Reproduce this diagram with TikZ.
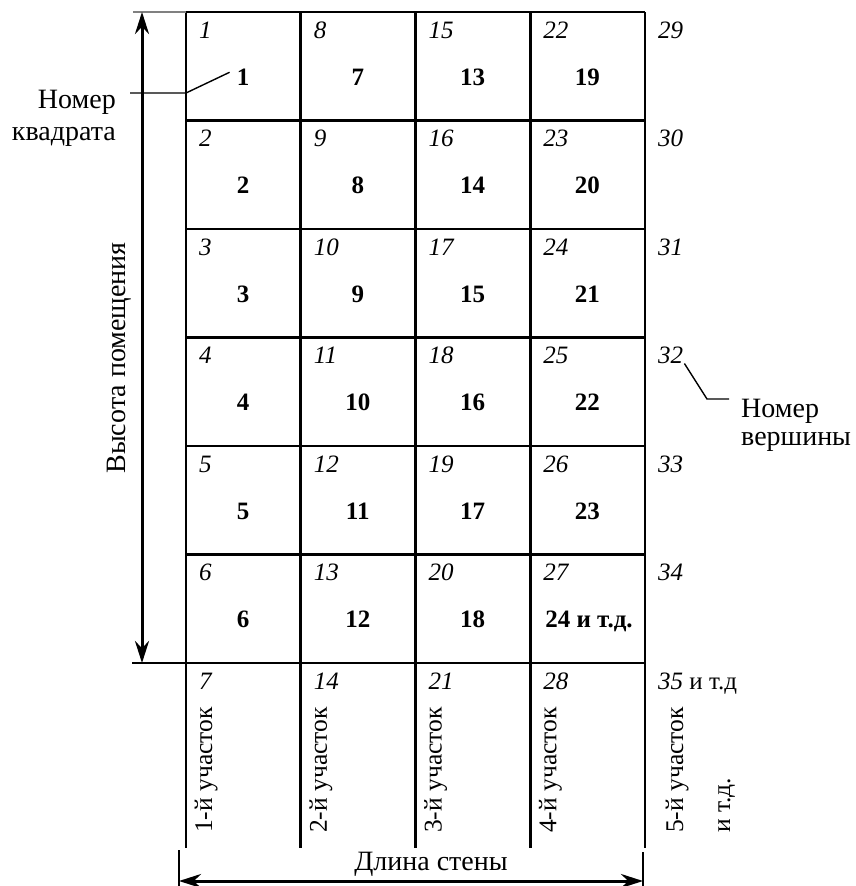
\documentclass[tikz,border=0pt]{standalone}
\usepackage{fontspec}
\setmainfont{Liberation Serif}
\usetikzlibrary{arrows.meta}
\begin{document}
\begin{tikzpicture}[x=1pt,y=-1pt,
  gridline/.style={line width=2.8pt},
  leader/.style={line width=1.4pt},
  dimline/.style={line width=3pt,
    {Stealth[length=22pt,width=14pt]}-{Stealth[length=22pt,width=14pt]}},
  vnum/.style={font=\fontsize{25}{28}\itshape, anchor=base west, inner sep=0pt},
  sqnum/.style={font=\fontsize{25}{28}\bfseries, anchor=base, inner sep=0pt},
  caption/.style={font=\fontsize{28}{32}\selectfont, inner sep=0pt},
  strip/.style={font=\fontsize{25.5}{30}\selectfont, inner sep=0pt, rotate=90, anchor=base west},
]
% page frame
\useasboundingbox (0,0) rectangle (856,886);

% grid: 4 columns of squares plus the strip below
\foreach \i in {0,...,4}
  \draw[gridline] ({186+114.75*\i},12) -- ({186+114.75*\i},848);
\foreach \j in {0,...,5}
  \draw[gridline] (186,{12+108.5*\j}) -- (645,{12+108.5*\j});
\draw[gridline] (132,663) -- (645,663);
\draw[gray, line width=1.2pt] (133,12) -- (186,12);

% vertex numbers
\foreach \i in {0,...,4}
  \foreach \j in {0,...,5} {
    \pgfmathtruncatemacro\n{7*\i+\j+1}
    \node[vnum] (v\n) at ({186+114.75*\i+13},{12+108.5*\j+26}) {\n};
  }
\node[vnum] (v7)  at (199,689) {7};
\node[vnum] (v14) at (313.75,689) {14};
\node[vnum] (v21) at (428.5,689) {21};
\node[vnum] (v28) at (543.25,689) {28};
\node[vnum] (v35) at (658,689) {35\textup{ и т.д}};

% square numbers
\foreach \i in {0,...,3}
  \foreach \j in {0,...,5} {
    \pgfmathtruncatemacro\n{6*\i+\j+1}
    \ifnum\n<24
      \node[sqnum] (s\n) at ({186+114.75*\i+57},{12+108.5*\j+73}) {\n};
    \fi
  }
\node[sqnum] (s24) at (589,{12+108.5*5+73}) {24 и т.д.};

% strip captions
\node[strip] (p1) at (212,833) {1-й участок};
\node[strip] (p2) at (326.75,833) {2-й участок};
\node[strip] (p3) at (441.5,833) {3-й участок};
\node[strip] (p4) at (556.25,833) {4-й участок};
\node[strip] (p5) at (683,833) {5-й участок};
\node[strip] (p6) at (730,833) {и т.д.};

% height dimension
\coordinate (htop) at (142,12);
\coordinate (hbot) at (142,663);
\draw[dimline] (htop) -- (hbot);
\node[caption, rotate=90, anchor=base] (hcap) at (125,358) {Высота помещения};

% length dimension
\coordinate (lleft) at (179,881);
\coordinate (lright) at (643,881);
\draw[leader] (179,850) -- (179,886);
\draw[leader] (643,852) -- (643,886);
\draw[dimline] (lleft) -- (lright);
\node[caption, anchor=base] (lcap) at (431,870) {Длина стены};

% square number callout
\node[caption, anchor=base east] (sq1) at (116,108) {Номер};
\node[caption, anchor=base east] (sq2) at (116,140) {квадрата};
\coordinate (sqk) at (130,93);
\draw[leader] (sqk) -- (186,93) -- ([shift={(-7,4)}]s1.north west);

% vertex number callout
\node[caption, anchor=base west] (vx1) at (741,417) {Номер};
\node[caption, anchor=base west] (vx2) at (741,445) {вершины};
\coordinate (vxk) at (729,399);
\draw[leader] ([shift={(1,0)}]v32.base east) -- (707,399) -- (vxk);
\end{tikzpicture}
\end{document}
